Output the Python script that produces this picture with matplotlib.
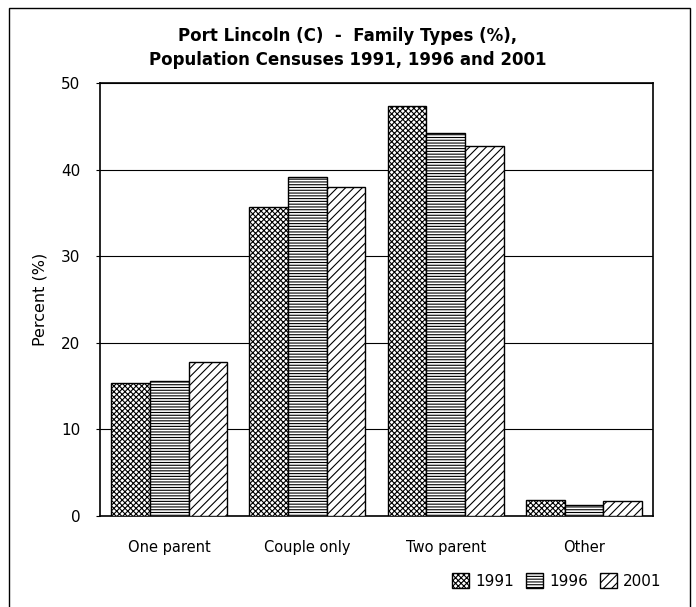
import matplotlib.pyplot as plt
import matplotlib.patches as mpatches
import numpy as np

categories = ["One parent", "Couple only", "Two parent", "Other"]
years = ["1991", "1996", "2001"]
pct_1991 = [15.4, 35.7, 47.3, 1.8]
pct_1996 = [15.6, 39.1, 44.2, 1.3]
pct_2001 = [17.8, 38.0, 42.7, 1.7]
yticks = [0, 10, 20, 30, 40, 50]

plt.rcParams["hatch.linewidth"] = 0.8
fig = plt.figure(figsize=(6.96, 6.07), dpi=100)
ax = fig.add_axes([0.1437, 0.1499, 0.7946, 0.7134])

x = np.arange(len(categories))
w = 0.28
hatches = ["xxxxxx", "------", "////"]
for i, (vals, h) in enumerate(zip([pct_1991, pct_1996, pct_2001], hatches)):
    ax.bar(x + (i - 1) * w, vals, w, facecolor="white", edgecolor="black",
           linewidth=1.0, hatch=h, label=years[i], zorder=3)

ax.set_xlim(-0.5, len(categories) - 0.5)
ax.set_ylim(0, 50)
ax.set_yticks(yticks)
ax.yaxis.grid(True, color="black", linewidth=0.8, zorder=0)
ax.set_xticks(x)
ax.set_xticklabels(categories, fontsize=10.5)
ax.tick_params(axis="x", length=0, pad=17)
ax.tick_params(axis="y", length=3, labelsize=11, pad=11)
for s in ax.spines.values():
    s.set_linewidth(1.2)
ax.set_ylabel("Percent (%)", fontsize=11.5, labelpad=10)

fig.suptitle("Port Lincoln (C)  -  Family Types (%),\nPopulation Censuses 1991, 1996 and 2001",
             fontsize=12, fontweight="bold", y=0.955, linespacing=1.4)

ax.legend(loc="upper right", bbox_to_anchor=(1.04, -0.10), ncol=3, frameon=False,
          fontsize=11, handlelength=1.1, handleheight=1.1, columnspacing=0.8,
          handletextpad=0.4)

fig.patches.append(mpatches.Rectangle((9 / 696, -0.02), 681 / 696, 1.0 - 8 / 607 + 0.02,
                                      transform=fig.transFigure, fill=False,
                                      edgecolor="black", linewidth=1.0))

fig.savefig("out.png", dpi=100)
